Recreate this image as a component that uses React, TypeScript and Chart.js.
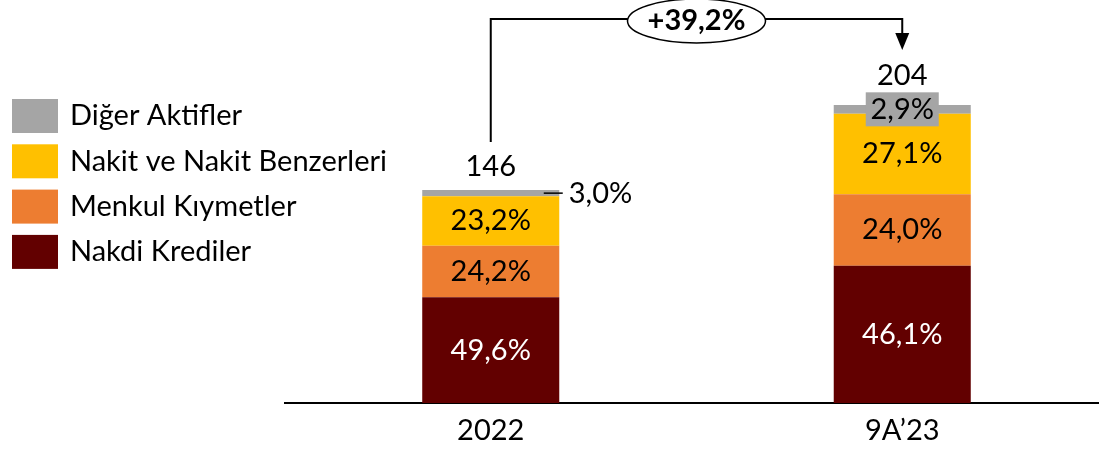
import React, { useEffect, useRef } from "react";
import { Chart, registerables } from "chart.js";

Chart.register(...registerables);

// ---- Data ----
const categories = ["2022", "9A’23"];
const totals = [146, 204];
const seriesNames = [
  "Nakdi Krediler",
  "Menkul Kıymetler",
  "Nakit ve Nakit Benzerleri",
  "Diğer Aktifler",
];
const nakdiKredilerShare = [49.6, 46.1];
const menkulKiymetlerShare = [24.2, 24.0];
const nakitShare = [23.2, 27.1];
const digerAktiflerShare = [3.0, 2.9];
const growthLabel = "+39,2%";

const shares = [nakdiKredilerShare, menkulKiymetlerShare, nakitShare, digerAktiflerShare];

// ---- Styles ----
const COLORS = ["#620000", "#ED7D31", "#FFC000", "#A5A5A5"];
const FONT_FAMILY = "Lato, 'Open Sans', sans-serif";
const FONT_SIZE = 29;

const fmtPct = (v: number) => v.toFixed(1).replace(".", ",") + "%";
const fmtNum = (v: number) => String(v);

const overlayPlugin = {
  id: "overlay",
  afterDatasetsDraw(chart: any) {
    const ctx: CanvasRenderingContext2D = chart.ctx;
    ctx.save();
    ctx.font = `${FONT_SIZE}px ${FONT_FAMILY}`;
    ctx.textBaseline = "middle";

    const nDs = chart.data.datasets.length;
    const topIdx = nDs - 1;

    // segment labels
    chart.data.datasets.forEach((ds: any, di: number) => {
      const meta = chart.getDatasetMeta(di);
      meta.data.forEach((bar: any, i: number) => {
        const { x, y, base } = bar.getProps(["x", "y", "base"], true);
        const cy = (y + base) / 2;
        const text = fmtPct(shares[di][i]);
        if (di === topIdx) {
          if (i === 0) {
            // outside label with leader line
            ctx.strokeStyle = "#000";
            ctx.lineWidth = 1.5;
            ctx.beginPath();
            ctx.moveTo(x + 53, cy);
            ctx.lineTo(x + 72, cy);
            ctx.stroke();
            ctx.fillStyle = "#000";
            ctx.textAlign = "left";
            ctx.fillText(text, x + 78, cy);
          } else {
            // boxed label
            const bw = 73;
            const bh = 34;
            ctx.fillStyle = COLORS[di];
            ctx.fillRect(x - bw / 2, cy - bh / 2, bw, bh);
            ctx.fillStyle = "#000";
            ctx.textAlign = "center";
            ctx.fillText(text, x, cy);
          }
        } else {
          ctx.fillStyle = di === 0 ? "#FFFFFF" : "#000000";
          ctx.textAlign = "center";
          ctx.fillText(text, x, cy);
        }
      });
    });

    // totals
    const topMeta = chart.getDatasetMeta(topIdx);
    const totalOffsets = [23, 29];
    topMeta.data.forEach((bar: any, i: number) => {
      const { x, y } = bar.getProps(["x", "y"], true);
      ctx.fillStyle = "#000";
      ctx.textAlign = "center";
      ctx.fillText(fmtNum(totals[i]), x, y - totalOffsets[i]);
    });

    // growth bracket
    const b0 = topMeta.data[0].getProps(["x"], true);
    const b1 = topMeta.data[1].getProps(["x"], true);
    const x0 = b0.x;
    const x1 = b1.x;
    const lineY = 19;
    ctx.strokeStyle = "#000";
    ctx.lineWidth = 2;
    ctx.beginPath();
    ctx.moveTo(x0, 142);
    ctx.lineTo(x0, lineY);
    ctx.lineTo(x1, lineY);
    ctx.lineTo(x1, 34);
    ctx.stroke();
    // arrow head
    ctx.fillStyle = "#000";
    ctx.beginPath();
    ctx.moveTo(x1 - 7, 33);
    ctx.lineTo(x1 + 7, 33);
    ctx.lineTo(x1, 50);
    ctx.closePath();
    ctx.fill();
    // ellipse
    const ex = (x0 + x1) / 2;
    const ey = 21;
    ctx.beginPath();
    ctx.ellipse(ex, ey, 69, 22, 0, 0, Math.PI * 2);
    ctx.fillStyle = "#fff";
    ctx.fill();
    ctx.lineWidth = 1.5;
    ctx.stroke();
    ctx.fillStyle = "#000";
    ctx.font = `bold ${FONT_SIZE}px ${FONT_FAMILY}`;
    ctx.textAlign = "center";
    ctx.fillText(growthLabel, ex, ey);

    ctx.restore();
  },
  afterDraw(chart: any) {
    // legend (top item = last dataset)
    const ctx: CanvasRenderingContext2D = chart.ctx;
    ctx.save();
    ctx.font = `${FONT_SIZE}px ${FONT_FAMILY}`;
    ctx.textBaseline = "middle";
    ctx.textAlign = "left";
    const ds = chart.data.datasets;
    const order = ds.map((_: any, i: number) => i).reverse();
    order.forEach((di: number, k: number) => {
      const top = 99 + k * 45.3;
      ctx.fillStyle = ds[di].backgroundColor;
      ctx.fillRect(12, top, 46, 34);
      ctx.fillStyle = "#000";
      ctx.fillText(ds[di].label, 70, top + 17);
    });
    ctx.restore();
  },
};

export default function App() {
  const canvasRef = useRef<HTMLCanvasElement | null>(null);

  useEffect(() => {
    if (!canvasRef.current) return;
    const data = {
      labels: categories,
      datasets: seriesNames.map((name, di) => ({
        label: name,
        data: totals.map((t, i) => (t * shares[di][i]) / 100),
        backgroundColor: COLORS[di],
        borderWidth: 0,
        categoryPercentage: 1,
        barPercentage: 0.333,
      })),
    };
    const chart = new Chart(canvasRef.current, {
      type: "bar",
      data,
      options: {
        animation: false,
        responsive: false,
        devicePixelRatio: 1,
        layout: { padding: { left: 285, right: 2, top: 9, bottom: 0 } },
        plugins: {
          legend: { display: false },
          tooltip: { enabled: false },
        },
        scales: {
          x: {
            stacked: true,
            grid: { display: false, drawTicks: false },
            border: { display: true, color: "#000", width: 2 },
            ticks: {
              color: "#000",
              padding: 10,
              font: { family: FONT_FAMILY, size: FONT_SIZE },
            },
            afterFit: (scale: any) => {
              scale.height = 46;
            },
          },
          y: {
            stacked: true,
            display: false,
            min: 0,
            max: 270,
          },
        },
      },
      plugins: [overlayPlugin],
    });
    return () => chart.destroy();
  }, []);

  return (
    <div
      style={{
        position: "fixed",
        top: 0,
        left: 0,
        width: 1099,
        height: 449,
        overflow: "hidden",
        background: "#fff",
      }}
    >
      <canvas
        ref={canvasRef}
        width={1110}
        height={449}
        style={{ display: "block", width: 1110, height: 449 }}
      />
    </div>
  );
}
